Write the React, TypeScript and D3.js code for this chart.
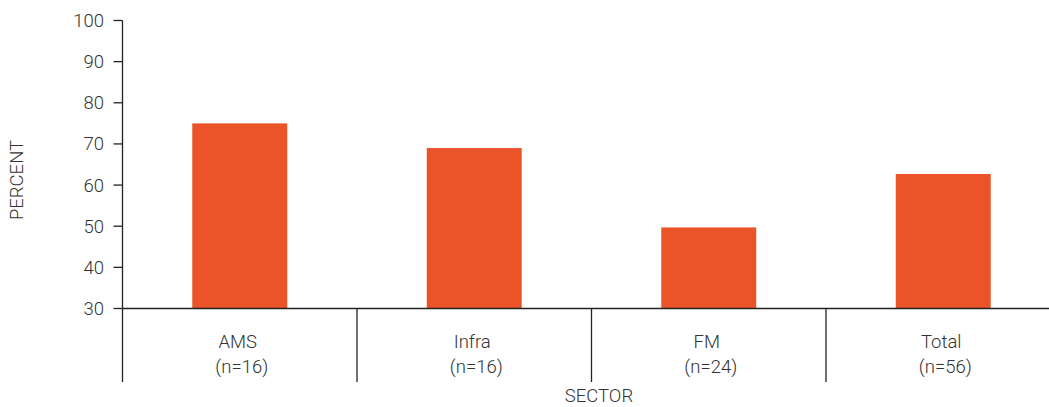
import React from "react";
import * as d3 from "d3";

const categories = ["AMS", "Infra", "FM", "Total"];
const sampleSizes = ["(n=16)", "(n=16)", "(n=24)", "(n=56)"];
const values = [75, 69, 49.7, 62.7];
const yTicks = [30, 40, 50, 60, 70, 80, 90, 100];

const W = 1049;
const H = 407;
const FONT = "Roboto, 'Liberation Sans', Arial, sans-serif";
const TEXT = "#333333";
const BAR = "#EB5429";
const FS = 18.5;

export default function App() {
  const left = 122.5;
  const step = 234.5;
  const y = d3.scaleLinear().domain([30, 100]).range([308.5, 20.5]);
  const x = d3
    .scaleBand<string>()
    .domain(categories)
    .range([left, left + step * categories.length])
    .paddingInner(0)
    .paddingOuter(0);
  const bw = x.bandwidth() * 0.405;
  const y0 = y(30);

  return (
    <svg
      width={W}
      height={H}
      style={{ position: "absolute", left: 0, top: 0 }}
      fontFamily={FONT}
    >
      {categories.map((c, i) => (
        <rect
          key={c}
          x={(x(c) as number) + x.bandwidth() / 2 - bw / 2}
          y={y(values[i])}
          width={bw}
          height={y0 - y(values[i])}
          fill={BAR}
        />
      ))}
      {/* y axis */}
      <line x1={left} x2={left} y1={y(100)} y2={y0} stroke="#222" strokeWidth={1.3} />
      {yTicks.map((t) => (
        <g key={t}>
          <line x1={left - 9} x2={left} y1={y(t)} y2={y(t)} stroke="#222" strokeWidth={1.3} />
          <text
            x={104}
            y={y(t) + 6.5}
            textAnchor="end"
            fontSize={FS}
            fontWeight={300}
            fill={TEXT}
          >
            {t}
          </text>
        </g>
      ))}
      {/* x axis */}
      <line x1={left} x2={W} y1={y0} y2={y0} stroke="#222" strokeWidth={1.3} />
      {categories.map((c) => (
        <line
          key={"d" + c}
          x1={x(c) as number}
          x2={x(c) as number}
          y1={y0}
          y2={382}
          stroke="#222"
          strokeWidth={1.3}
        />
      ))}
      {categories.map((c, i) => {
        const cx = (x(c) as number) + x.bandwidth() / 2;
        return (
          <g key={"l" + c}>
            <text x={cx - 2} y={348} textAnchor="middle" fontSize={FS} fontWeight={300} fill={TEXT}>
              {c}
            </text>
            <text x={cx + 2} y={373} textAnchor="middle" fontSize={FS} fontWeight={300} fill={TEXT}>
              {sampleSizes[i]}
            </text>
          </g>
        );
      })}
      <text
        transform={`translate(23,180) rotate(-90)`}
        textAnchor="middle"
        fontSize={FS}
        fontWeight={300}
        fill={TEXT}
      >
        PERCENT
      </text>
      <text x={599} y={402} textAnchor="middle" fontSize={FS} fontWeight={300} fill={TEXT}>
        SECTOR
      </text>
    </svg>
  );
}
